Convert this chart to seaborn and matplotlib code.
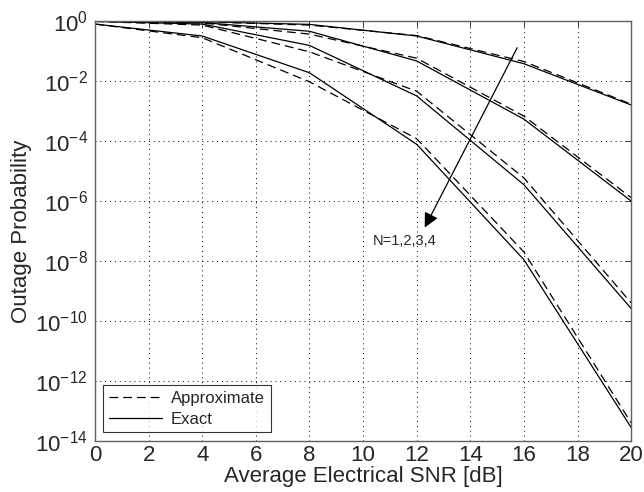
import numpy as np
import pandas as pd
import matplotlib
matplotlib.use('Agg')
import matplotlib.pyplot as plt
import seaborn as sns
from matplotlib.lines import Line2D

# Datos
snr_db = [0, 4, 8, 12, 16, 20]
exact_n1 = [1.0, 0.96, 0.78, 0.32, 0.038, 1.6e-3]
exact_n2 = [1.0, 0.9, 0.46, 0.047, 5.4e-4, 1.0e-6]
exact_n3 = [0.98, 0.8, 0.155, 3.2e-3, 3.5e-6, 2.6e-10]
exact_n4 = [0.8, 0.32, 0.019, 7.8e-5, 1.1e-8, 2.8e-14]
approx_n1 = [1.0, 0.95, 0.74, 0.33, 0.045, 1.7e-3]
approx_n2 = [1.0, 0.87, 0.37, 0.058, 6.8e-4, 1.3e-6]
approx_n3 = [0.98, 0.74, 0.095, 4.6e-3, 5.9e-6, 4.0e-10]
approx_n4 = [0.8, 0.28, 9.5e-3, 1.2e-4, 2.0e-8, 4.0e-14]

x_ticks = list(range(0, 21, 2))
y_ticks = [10.0 ** -k for k in range(0, 15, 2)]

rows = []
for n, (ex, ap) in enumerate(zip([exact_n1, exact_n2, exact_n3, exact_n4],
                                 [approx_n1, approx_n2, approx_n3, approx_n4]), start=1):
    for s, e, a in zip(snr_db, ex, ap):
        rows.append({'SNR': s, 'Pout': e, 'N': n, 'Tipo': 'Exact'})
        rows.append({'SNR': s, 'Pout': a, 'N': n, 'Tipo': 'Approximate'})
df = pd.DataFrame(rows)

sns.set_style('white')
plt.rcParams['font.family'] = ['Liberation Sans', 'DejaVu Sans']

fig = plt.figure(figsize=(6.44, 4.92), dpi=100)
ax = fig.add_axes([0.1475, 0.104, 0.8325, 0.853])

for n in range(1, 5):
    sub = df[(df['N'] == n) & (df['Tipo'] == 'Approximate')]
    sns.lineplot(data=sub, x='SNR', y='Pout', ax=ax, color='black', lw=0.9,
                 estimator=None, sort=False)
    ax.lines[-1].set_dashes([7, 4])
    sub = df[(df['N'] == n) & (df['Tipo'] == 'Exact')]
    sns.lineplot(data=sub, x='SNR', y='Pout', ax=ax, color='black', lw=0.9,
                 estimator=None, sort=False)

ax.set_yscale('log')
ax.set_xlim(0, 20)
ax.set_ylim(1e-14, 1)
ax.set_xticks(x_ticks)
ax.set_yticks(y_ticks)
ax.yaxis.set_minor_locator(matplotlib.ticker.NullLocator())
ax.tick_params(direction='in', length=4, labelsize=16, top=True, right=True,
               width=0.6, pad=3)
ax.tick_params(axis='y', pad=5)
ax.grid(True, which='major', color='black', linestyle=(0, (1, 4)), linewidth=0.7)
for sp in ax.spines.values():
    sp.set_color('#606060')
    sp.set_linewidth(1.0)

ax.set_xlabel('Average Electrical SNR [dB]', fontsize=16, labelpad=0)
ax.set_ylabel('Outage Probability', fontsize=16, labelpad=2)

ax.annotate('', xy=(12.3, 1.3e-7), xytext=(15.75, 0.13),
            arrowprops=dict(arrowstyle='-|>', color='black', lw=0.9,
                            mutation_scale=22, shrinkA=0, shrinkB=0))
ax.text(10.35, 4.7e-8, 'N=1,2,3,4', fontsize=10.5, va='center', ha='left')

handles = [Line2D([], [], color='black', lw=0.9, dashes=[7, 4], label='Approximate'),
           Line2D([], [], color='black', lw=0.9, label='Exact')]
leg = ax.legend(handles=handles, loc='lower left', fontsize=12, frameon=True,
                fancybox=False, edgecolor='black', borderaxespad=0.5,
                handlelength=3.2, labelspacing=0.35, borderpad=0.35,
                handletextpad=0.5)
leg.get_frame().set_linewidth(0.8)

fig.savefig('out.png', dpi=100)
